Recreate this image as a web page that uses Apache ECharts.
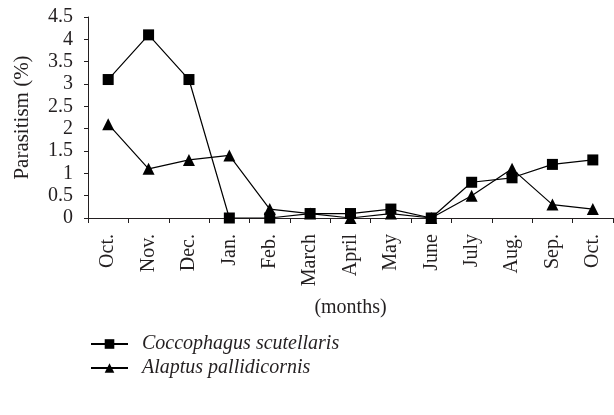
<!DOCTYPE html>
<html>
<head>
<meta charset="utf-8">
<script src="https://cdn.jsdelivr.net/npm/echarts@6/dist/echarts.min.js"></script>
<style>
  html, body { margin: 0; padding: 0; background: #fff; }
  #chart { width: 614px; height: 415px; }
</style>
</head>
<body>
<div id="chart"></div>
<script>
'use strict';

// ── Data ──────────────────────────────────────────────────────────────────────
const months      = ['Oct.', 'Nov.', 'Dec.', 'Jan.', 'Feb.', 'March', 'April', 'May', 'June', 'July', 'Aug.', 'Sep.', 'Oct.'];
const coccophagus = [3.1, 4.1, 3.1, 0, 0, 0.1, 0.1, 0.2, 0, 0.8, 0.9, 1.2, 1.3];
const alaptus     = [2.1, 1.1, 1.3, 1.4, 0.2, 0.1, 0, 0.1, 0, 0.5, 1.1, 0.3, 0.2];
const yTicks      = [0, 0.5, 1, 1.5, 2, 2.5, 3, 3.5, 4, 4.5];

const FONT = 'Liberation Serif, DejaVu Serif, serif';
const INK  = '#231f20';

const chart = echarts.init(document.getElementById('chart'), null, { renderer: 'canvas' });

chart.setOption({
  backgroundColor: '#fff',
  animation: false,
  textStyle: { fontFamily: FONT, color: INK },
  grid: { left: 88, right: 1, top: 17, bottom: 197, containLabel: false },
  legend: {
    orient: 'vertical',
    left: 85,
    top: 329,
    itemGap: 4,
    itemWidth: 37,
    itemHeight: 12,
    textStyle: { fontFamily: FONT, fontStyle: 'italic', fontSize: 20, color: INK, padding: [0, 0, 0, 9] },
    data: ['Coccophagus scutellaris', 'Alaptus pallidicornis'],
  },
  xAxis: {
    type: 'category',
    data: months,
    boundaryGap: true,
    name: '(months)',
    nameLocation: 'middle',
    nameGap: 80,
    nameTextStyle: { fontFamily: FONT, fontSize: 20, color: INK },
    axisLine: { lineStyle: { color: INK, width: 1 } },
    axisTick: { show: true, length: 5, inside: false, lineStyle: { color: INK } },
    axisLabel: { rotate: 90, margin: 16, fontSize: 20, color: INK, fontFamily: FONT, interval: 0 },
    splitLine: { show: false },
  },
  yAxis: {
    type: 'value',
    min: 0,
    max: yTicks[yTicks.length - 1],
    interval: 0.5,
    name: 'Parasitism (%)',
    nameLocation: 'middle',
    nameGap: 55,
    nameTextStyle: { fontFamily: FONT, fontSize: 21, color: INK },
    axisLine: { show: true, lineStyle: { color: INK, width: 1 } },
    axisTick: { show: true, length: 4, lineStyle: { color: INK } },
    axisLabel: { fontSize: 20, color: INK, fontFamily: FONT, margin: 15 },
    splitLine: { show: false },
  },
  series: [
    {
      name: 'Coccophagus scutellaris',
      type: 'line',
      data: coccophagus,
      symbol: 'rect',
      symbolSize: 11,
      lineStyle: { color: '#000', width: 1.2 },
      itemStyle: { color: '#000', borderWidth: 0 },
    },
    {
      name: 'Alaptus pallidicornis',
      type: 'line',
      data: alaptus,
      symbol: 'triangle',
      symbolSize: 12,
      lineStyle: { color: '#000', width: 1.2 },
      itemStyle: { color: '#000', borderWidth: 0 },
    },
  ],
});
</script>
</body>
</html>
